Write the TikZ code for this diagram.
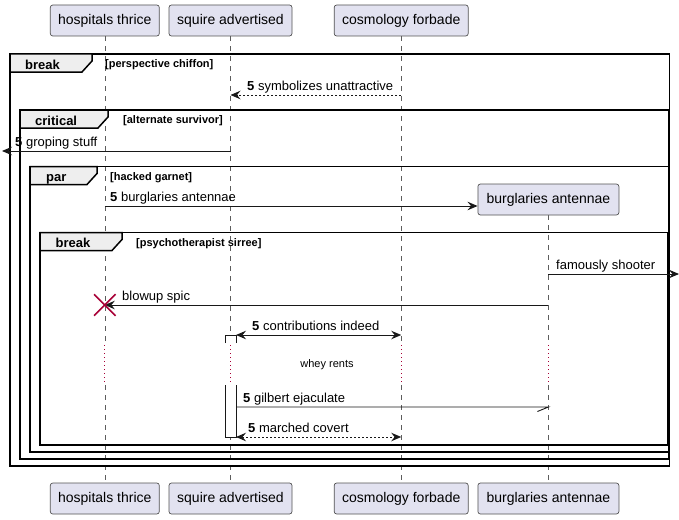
\documentclass[tikz,border=0pt]{standalone}
\usepackage{fontspec}
\setmainfont{Liberation Sans}
\usetikzlibrary{arrows.meta,shapes.misc}
\definecolor{pfill}{HTML}{E2E2F0}
\definecolor{pline}{HTML}{181818}
\definecolor{tabfill}{HTML}{EEEEEE}
\definecolor{delayred}{HTML}{A80036}
\begin{document}
\begin{tikzpicture}[x=1pt,y=-1pt,
 part/.style={draw=pline!75, fill=pfill, rounded corners=2.5pt, minimum height=31pt, inner sep=0pt, font=\fontsize{14}{16}\selectfont, line width=0.7pt},
 life/.style={pline!70, line width=0.6pt, dash pattern=on 5pt off 5pt},
 dly/.style={delayred, line width=1pt, dash pattern=on 1pt off 3pt},
 frm/.style={black, line width=1.5pt},
 tabbox/.style={fill=tabfill, draw=black, line width=1.5pt},
 tablabel/.style={font=\fontsize{13}{15}\selectfont\bfseries, anchor=base west, inner sep=0pt},
 cond/.style={font=\fontsize{11}{13}\selectfont\bfseries, anchor=base west, inner sep=0pt},
 msg/.style={font=\fontsize{13}{15}\selectfont, anchor=base west, inner sep=0pt},
 tip/.style={-{Stealth[length=10pt,width=8.5pt,inset=3.5pt]}},
 bitip/.style={{Stealth[length=10pt,width=8.5pt,inset=3.5pt]}-{Stealth[length=10pt,width=8.5pt,inset=3.5pt]}},
 arr/.style={pline, line width=0.9pt},
 dsh/.style={dash pattern=on 2pt off 2pt},
 act/.style={draw=pline, fill=white, line width=0.9pt}
]
\useasboundingbox (0,0) rectangle (679,519);
% participants
\node[part, minimum width=109pt] (pA) at (104.8,20.5) {hospitals thrice};
\node[part, minimum width=123pt] (pB) at (230.5,20.5) {squire advertised};
\node[part, minimum width=134pt] (pC) at (401.2,20.5) {cosmology forbade};
\node[part, minimum width=109pt] (qA) at (104.8,498.5) {hospitals thrice};
\node[part, minimum width=123pt] (qB) at (230.5,498.5) {squire advertised};
\node[part, minimum width=134pt] (qC) at (401.2,498.5) {cosmology forbade};
\node[part, minimum width=141pt] (qD) at (548.4,498.5) {burglaries antennae};
% lifelines
\foreach \x/\n in {104.8/A,230.5/B,401.2/C}{
  \draw[life] (p\n.south) -- (\x,344);
  \draw[dly] (\x,345) -- (\x,384);
  \draw[life] (\x,385) -- (q\n.north);
}
\draw[life] (548.4,215) -- (548.4,344);
\draw[dly] (548.4,345) -- (548.4,384);
\draw[life] (548.4,385) -- (qD.north);
% frames
\draw[frm] (10,54) rectangle (669.5,466);
\draw[frm] (20,110) rectangle (669,459);
\draw[frm] (30,166.5) rectangle (668.5,452);
\draw[frm] (40,232.5) rectangle (668,445);
\filldraw[tabbox] (10,54) -- (92,54) -- (92,61) -- (82,72) -- (10,72) -- cycle;
\filldraw[tabbox] (20,110) -- (108,110) -- (108,117) -- (98,128) -- (20,128) -- cycle;
\filldraw[tabbox] (30,166.5) -- (97,166.5) -- (97,173.5) -- (87,184.5) -- (30,184.5) -- cycle;
\filldraw[tabbox] (40,232.5) -- (122,232.5) -- (122,239.5) -- (112,250.5) -- (40,250.5) -- cycle;
\node[tablabel] (t1) at (25,69) {break};
\node[cond] (c1) at (105,67.5) {[perspective chiffon]};
\node[tablabel] (t2) at (35,125) {critical};
\node[cond] (c2) at (123,123.5) {[alternate survivor]};
\node[tablabel] (t3) at (46,181.5) {par};
\node[cond] (c3) at (110,180) {[hacked garnet]};
\node[tablabel] (t4) at (55.5,247.5) {break};
\node[cond] (c4) at (136,246) {[psychotherapist sirree]};
% created participant
\node[part, minimum width=141pt] (pD) at (548.4,199.5) {burglaries antennae};
% activation bar
\fill[white] (225,335) rectangle (236,343);
\draw[act] (225,343) -- (225,335) -- (236,335) -- (236,343);
\fill[white] (225,385) rectangle (236,437);
\draw[act] (225,385) -- (225,437) -- (236,437) -- (236,385);
% messages
\coordinate (m1a) at (401.2,95); \coordinate (m1b) at (230.5,95);
\draw[arr,tip,dsh] (m1a) -- (m1b);
\node[msg] (l1) at (247,90) {\textbf{5} symbolizes unattractive};
\coordinate (m2a) at (230.5,151); \coordinate (m2b) at (2,151);
\draw[arr,tip] (m2a) -- (m2b);
\node[msg] (l2) at (15,146) {\textbf{5} groping stuff};
\coordinate (m3a) at (104.8,206);
\draw[arr,tip] (m3a) -- (m3a -| pD.west);
\node[msg] (l3) at (110,201) {\textbf{5} burglaries antennae};
\coordinate (m4a) at (548.4,274); \coordinate (m4b) at (679,274);
\draw[arr,tip] (m4a) -- (m4b);
\node[msg] (l4) at (556,269) {famously shooter};
\coordinate (m5a) at (548.4,305); \coordinate (m5b) at (104.8,305);
\draw[arr,tip] (m5a) -- (m5b);
\node[msg] (l5) at (122,300) {blowup spic};
\node[cross out, draw=delayred, line width=1.5pt, minimum size=20pt, inner sep=0pt] (xA) at (m5b) {};
\coordinate (m6a) at (236,335); \coordinate (m6b) at (401.2,335);
\draw[arr,bitip] (m6a) -- (m6b);
\node[msg] (l6) at (252,330) {\textbf{5} contributions indeed};
\node[font=\fontsize{11}{13}\selectfont, inner sep=0pt] (dl) at (327,365) {whey rents};
\coordinate (m7a) at (236,407); \coordinate (m7b) at (548.4,407);
\draw[arr] (m7a) -- (m7b) -- ++(-11,4.5);
\node[msg] (l7) at (243,402) {\textbf{5} gilbert ejaculate};
\coordinate (m8a) at (236,437); \coordinate (m8b) at (401.2,437);
\draw[arr,bitip,dsh] (m8a) -- (m8b);
\node[msg] (l8) at (248,432) {\textbf{5} marched covert};
\end{tikzpicture}
\end{document}
